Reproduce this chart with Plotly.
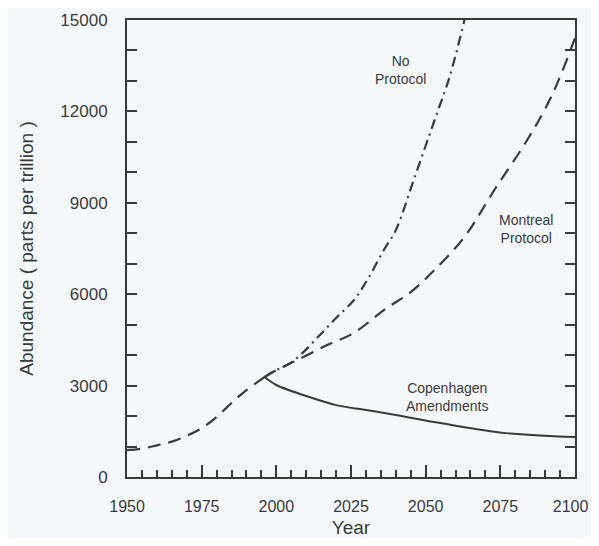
import plotly.graph_objects as go

# Shared historical record (dashed)
hist_years = [1950, 1955, 1960, 1965, 1970, 1975, 1980, 1985, 1990, 1996]
hist_vals = [880, 930, 1040, 1160, 1350, 1600, 1970, 2430, 2850, 3280]

# No Protocol (dash-dot)
nop_years = [1996, 2000, 2004, 2008, 2014, 2020, 2026, 2031, 2036, 2040, 2046, 2053, 2058, 2063]
nop_vals = [3280, 3510, 3700, 4000, 4600, 5220, 5810, 6560, 7450, 8100, 9750, 11720, 13130, 15000]

# Montreal Protocol (dashed)
mon_years = [1996, 2000, 2007, 2017, 2026, 2036, 2045, 2053, 2063, 2073, 2084, 2092, 2100]
mon_vals = [3280, 3510, 3840, 4330, 4730, 5480, 6070, 6800, 7880, 9420, 11060, 12470, 14400]

# Copenhagen Amendments (solid)
cop_years = [1996, 2000, 2009, 2020, 2030, 2040, 2055, 2077, 2100]
cop_vals = [3280, 3020, 2690, 2360, 2200, 2035, 1770, 1440, 1310]

labels = ["No<br>Protocol", "Montreal<br>Protocol", "Copenhagen<br>Amendments"]
label_x = [2041.5, 2083.5, 2057]
label_y = [13350, 8150, 2620]

x_ticks = [1950, 1975, 2000, 2025, 2050, 2075, 2100]
x_ticktext = ["1950", "1975", "2000", "2025", "2050", "2075", "2100\u00a0\u00a0"]
y_ticks = [0, 3000, 6000, 9000, 12000, 15000]
y_ticktext = ["0", "3000", "6000", "9000", "12000", "15000"]

ink = "#3a3a3a"
font = "Liberation Sans"

fig = go.Figure()
fig.add_trace(go.Scatter(x=hist_years, y=hist_vals, mode="lines",
                         line=dict(color=ink, width=2.2, dash="13px,8px"),
                         line_shape="spline", showlegend=False))
fig.add_trace(go.Scatter(x=nop_years, y=nop_vals, mode="lines",
                         line=dict(color=ink, width=2.2, dash="10px,5px,2px,5px"),
                         line_shape="spline", showlegend=False))
fig.add_trace(go.Scatter(x=mon_years, y=mon_vals, mode="lines",
                         line=dict(color=ink, width=2.2, dash="13px,8px"),
                         line_shape="spline", showlegend=False))
fig.add_trace(go.Scatter(x=cop_years, y=cop_vals, mode="lines",
                         line=dict(color=ink, width=2),
                         line_shape="spline", showlegend=False))

for t, lx, ly in zip(labels, label_x, label_y):
    fig.add_annotation(x=lx, y=ly, text=t, showarrow=False,
                       font=dict(family=font, size=14, color=ink), align="center")

fig.update_layout(
    width=583, height=530,
    margin=dict(l=119, r=16, t=12, b=61),
    paper_bgcolor="#f5f9fc", plot_bgcolor="#f5f9fc",
    font=dict(family=font, color=ink),
)
fig.update_xaxes(
    range=[1949.99, 2100.01], tickvals=x_ticks, ticktext=x_ticktext,
    ticks="inside", ticklen=12, tickwidth=1.5, automargin=False,
    ticklabeloverflow="allow",
    tickcolor=ink, showline=True, linecolor=ink, linewidth=2, mirror=True,
    showgrid=False, zeroline=False, tickfont=dict(size=16, family=font),
    ticklabelstandoff=14,
    minor=dict(dtick=5, tick0=1950, ticks="inside", ticklen=7, tickwidth=1.5, tickcolor=ink, showgrid=False),
    title=dict(text="Year", font=dict(size=19, family=font), standoff=9),
)
fig.update_yaxes(
    range=[0, 15000.01], tickvals=y_ticks, ticktext=y_ticktext,
    ticks="inside", ticklen=10, tickwidth=1.5, automargin=False,
    ticklabeloverflow="allow",
    tickcolor=ink, showline=True, linecolor=ink, linewidth=2, mirror="ticks",
    showgrid=False, zeroline=False, tickfont=dict(size=17, family=font),
    ticklabelstandoff=14,
    minor=dict(dtick=1000, tick0=0, ticks="inside", ticklen=10, tickwidth=1.5, tickcolor=ink, showgrid=False),
    title=dict(text="Abundance ( parts per trillion )", font=dict(size=19, family=font), standoff=22),
)

fig.write_html("out.html")
